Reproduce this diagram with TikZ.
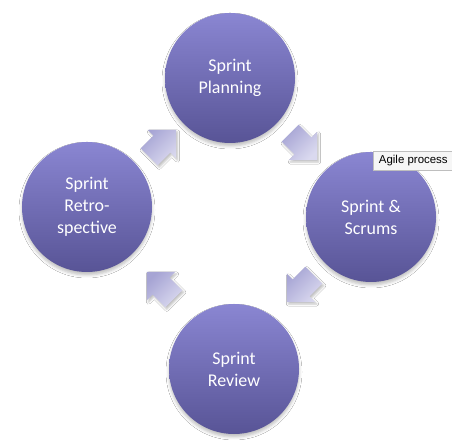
\documentclass[tikz,border=0pt]{standalone}
\usepackage{fontspec}
\setmainfont{Carlito}
\newfontfamily\tipfont{Liberation Sans}
\usetikzlibrary{shadows.blur,calc}
\definecolor{ctop}{RGB}{138,134,210}
\definecolor{cbot}{RGB}{88,84,150}
\definecolor{atop}{RGB}{166,164,212}
\definecolor{abot}{RGB}{218,217,239}
\definecolor{tipfill}{RGB}{246,246,246}
\definecolor{tipdraw}{RGB}{190,190,190}
\newcommand\blkarrow[2]{%
  \shade[arrowbox]
    ([shift={(#1)},rotate=#2]-12.5,-12) -- ([shift={(#1)},rotate=#2]5.5,-12) --
    ([shift={(#1)},rotate=#2]5.5,-20) -- ([shift={(#1)},rotate=#2]25.5,0) --
    ([shift={(#1)},rotate=#2]5.5,20) -- ([shift={(#1)},rotate=#2]5.5,12) --
    ([shift={(#1)},rotate=#2]-12.5,12) -- cycle;}
\begin{document}
\begin{tikzpicture}[x=1bp,y=1bp,
  phase/.style={circle, minimum size=130bp, inner sep=0pt,
    top color=ctop, bottom color=cbot, draw=none, text=white,
    font=\fontsize{18}{22}\selectfont, align=center,
    blur shadow={shadow xshift=0bp, shadow yshift=-3bp,
      shadow blur radius=3bp, shadow opacity=25}},
  arrowbox/.style={top color=atop, bottom color=abot, shading angle=45,
    blur shadow={shadow xshift=1.5bp, shadow yshift=-2bp,
      shadow blur radius=2bp, shadow opacity=25}},
  tip/.style={draw=tipdraw, fill=tipfill, line width=0.6bp,
    font=\tipfont\fontsize{11.5}{13}\selectfont, anchor=west,
    minimum height=19bp, minimum width=81bp, inner xsep=6bp,
    text depth=2.5bp, align=left}]
\useasboundingbox (0,0) rectangle (452,444);
\fill[white] (0,0) rectangle (452,444);
\node[phase] (plan) at (230,366) {Sprint\\Planning};
\node[phase] (scrum) at (371,227) {Sprint \&\\Scrums};
\node[phase] (retro) at (87,237) {Sprint\\Retro-\\spective};
\node[phase] (review) at (234,75) {Sprint\\Review};
\coordinate (a1) at (158,296);
\coordinate (a2) at (299,302);
\coordinate (a3) at (305,160);
\coordinate (a4) at (165,154);
\blkarrow{a1}{45}
\blkarrow{a2}{-45}
\blkarrow{a3}{-135}
\blkarrow{a4}{135}
\node[tip] (tooltip) at (372.5,283.5) {Agile process};
\end{tikzpicture}
\end{document}
